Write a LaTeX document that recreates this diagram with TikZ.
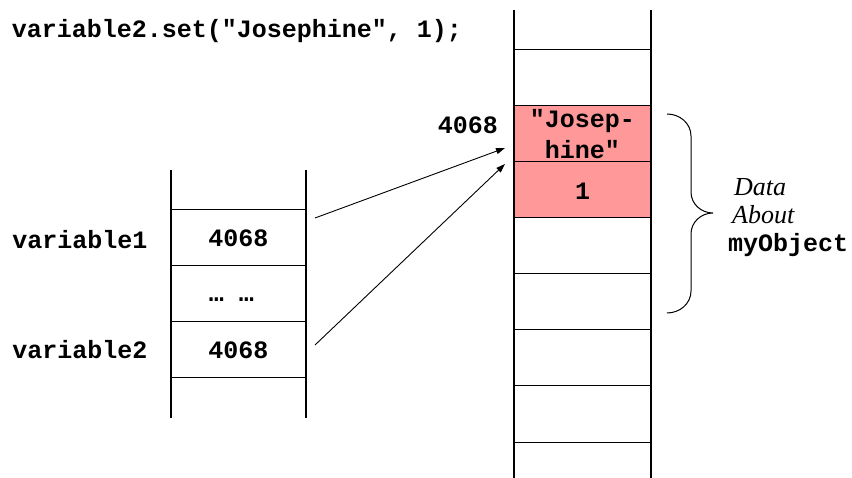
\documentclass[tikz,border=0pt]{standalone}
\usepackage{fontspec}
\setmainfont{Liberation Serif}
\newfontfamily\cour{Liberation Mono}
\usetikzlibrary{arrows.meta}
\definecolor{pinkcell}{HTML}{FF9999}
\begin{document}
\begin{tikzpicture}[x=1pt,y=-1pt,
 code/.style={font=\cour\bfseries\fontsize{25}{31}\selectfont, inner sep=0pt},
 note/.style={font=\itshape\fontsize{26}{29}\selectfont, inner sep=0pt, anchor=west},
 wall/.style={line width=1.6pt},
 rung/.style={line width=1pt},
 cellbox/.style={minimum width=137pt, minimum height=56pt, inner sep=0pt, draw=none},
 lcell/.style={minimum width=135pt, minimum height=56pt, inner sep=0pt, draw=none},
 ptr/.style={line width=0.9pt, -{Triangle[length=9pt,width=6pt]}}]
\useasboundingbox (0,0) rectangle (852,478);

% title code line
\node[code] (call) at (237,31) {variable2.set("Josephine", 1);};

% right (heap) stack
\node[cellbox, fill=pinkcell] (jo) at (582.5,134) {};
\node[cellbox, fill=pinkcell] (one) at (582.5,190) {};
\node[code, align=center] (jotext) at (582.5,134) {"Josep-\\hine"};
\node[code] (onetext) at (582.5,191) {1};
\foreach \y in {50,106,162,218,274,330,386,442}
  \draw[rung] (514,\y) -- (651,\y);
\draw[wall] (514,10) -- (514,478);
\draw[wall] (651,10) -- (651,478);
\node[code] (addr) at (468,125) {4068};

% left (stack) cells
\node[lcell] (v1cell) at (238.5,238) {};
\node[lcell] (dots) at (238.5,294) {};
\node[lcell] (v2cell) at (238.5,350) {};
\node[code] at (v1cell) {4068};
\node[code] at ([xshift=-7pt,yshift=-6pt]dots.center) {… …};
\node[code] at (v2cell) {4068};
\foreach \y in {210,266,322,378}
  \draw[rung] (171,\y) -- (306,\y);
\draw[wall] (171,170) -- (171,418);
\draw[wall] (306,170) -- (306,418);
\node[code] (v1) at (80,240) {variable1};
\node[code] (v2) at (80,350) {variable2};

% pointers
\coordinate (s1) at (315,218);
\coordinate (s2) at (315,345);
\coordinate (t1) at (505,148);
\coordinate (t2) at (505,164);
\draw[ptr] (s1) -- (t1);
\draw[ptr] (s2) -- (t2);

% brace
\coordinate (btop) at (667,114);
\coordinate (btip) at (713,213);
\coordinate (bbot) at (667,313);
\draw[line width=1pt] (btop) to[out=0,in=90] (691,136) -- (691,192)
  to[out=-90,in=180] (btip) to[out=180,in=90] (691,234) -- (691,291)
  to[out=-90,in=0] (bbot);

% annotation
\node[note] (data) at (734,187) {Data};
\node[note] (about) at (732,215) {About};
\node[code, anchor=west] (obj) at (728,245) {myObject};
\end{tikzpicture}
\end{document}
